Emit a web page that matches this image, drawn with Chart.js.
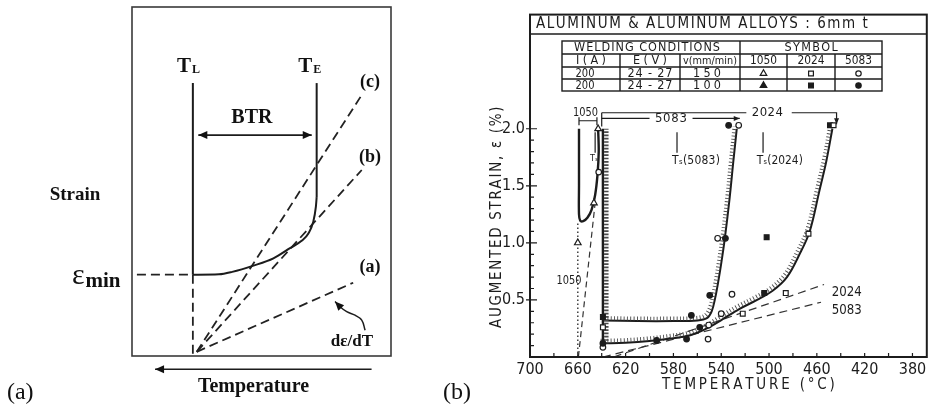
<!DOCTYPE html>
<html>
<head>
<meta charset="utf-8">
<title>Brittle temperature range and augmented strain of aluminium alloys</title>
<script src="https://cdn.jsdelivr.net/npm/chart.js@4.4.1/dist/chart.umd.min.js"></script>
<style>
  html, body { margin: 0; padding: 0; background: #fff; }
  body { width: 932px; height: 410px; position: relative; overflow: hidden; }
  canvas { position: absolute; top: 0; display: block; }
  #schematic { left: 0; }
  #strainPlot { left: 440px; }
</style>
</head>
<body>
<canvas id="schematic" width="440" height="410"></canvas>
<canvas id="strainPlot" width="492" height="410"></canvas>
<script>
// ---------------- (a) BTR schematic (arbitrary temperature / strain units) ----------------
const tlLine        = [[23.5, 78.2], [23.5, 23.3]];
const teLine        = [[71.3, 45.5], [71.3, 78.2]];
const ductility     = [[23.5, 23.3], [33.6, 23.4], [38.7, 24.1], [46.9, 25.9], [54.6, 28.0], [61.0, 30.9],
                       [65.5, 33.0], [68.1, 35.1], [70.0, 38.5], [71.0, 42.8], [71.3, 45.5]];
const tlDrop        = [[23.5, 23.3], [23.5, -0.6]];
const epsMinLevel   = [[1.9, 23.3], [23.5, 23.3]];
const rateA         = [[25.0, 1.2], [85.4, 21.0]];
const rateB         = [[25.0, 1.2], [88.7, 53.3]];
const rateC         = [[25.0, 1.2], [88.7, 74.8]];
const btrSpan       = [[25.6, 63.3], [69.4, 63.3]];
const tempDirection = [[92.5, -3.8], [8.9, -3.8]];
const rateCallout   = [[90.0, 7.4], [88.7, 10.3], [86.1, 11.7], [82.9, 12.7], [80.3, 14.1], [78.4, 15.6]];

// ---------------- (b) augmented strain vs temperature ----------------
const tempTicks   = [700, 660, 620, 580, 540, 500, 460, 420, 380];
const strainTicks = [0.5, 1.0, 1.5, 2.0];

// welding conditions table
const weldCurrent = ['200', '200'];
const weldVoltage = ['24 - 27', '24 - 27'];
const weldSpeed   = ['150', '100'];
const alloys      = ['1050', '2024', '5083'];

// ductility curves: [temperature °C, augmented strain %]
const curve1050   = [[659, 2.0], [659, 1.5], [659, 1.25], [658, 1.195], [655.5, 1.19], [652, 1.22],
                     [648.5, 1.29], [645.5, 1.42], [643.5, 1.6], [642.5, 1.8], [643, 2.0]];
const solidusEdge = [[639, 2.0], [639, 0.12]];
const curve5083   = [[639, 0.32], [610, 0.315], [580, 0.315], [560, 0.32], [552, 0.34], [548, 0.4],
                     [545, 0.52], [542.5, 0.66], [540, 0.82], [537, 1.04], [533, 1.39], [530, 1.7], [527, 2.0]];
const curve2024   = [[639, 0.12], [620, 0.125], [600, 0.14], [580, 0.165], [566, 0.19], [552, 0.25],
                     [539, 0.33], [525, 0.42], [510, 0.5], [497, 0.58], [485, 0.7], [474.5, 0.9],
                     [466, 1.1], [458, 1.45], [452, 1.72], [447, 2.0]];
// critical strain-rate lines and 1050 melting line
const rate1050     = [[659.5, 0], [645.5, 1.35]];
const liquidus1050 = [[660, 0], [660, 1.18]];
const rate2024     = [[630, 0], [454, 0.635]];
const rate5083     = [[639, 0], [456.5, 0.48]];
// brackets and solidus markers
const span1050 = [[659, 2.1], [659, 2.03], [659, 2.07], [644, 2.07], [644, 2.1], [644, 2.03]];
const spanLeft = [[640, 2.14], [640, 2.02]];
const span5083a = [[640, 2.09], [600, 2.09]];
const span5083b = [[564, 2.09], [524.5, 2.09]];
const span2024a = [[640, 2.14], [519, 2.14]];
const span2024b = [[481, 2.14], [443.5, 2.14], [443.5, 2.04]];
const ts1050 = [[645.5, 1.97], [645.5, 1.79]];
const ts5083 = [[577, 1.97], [577, 1.79]];
const ts2024 = [[505, 1.97], [505, 1.79]];

// measured points
const open1050 = [[660, 1.0], [646.5, 1.35], [643, 2.0]];
const open5083 = [[639, 0.085], [551, 0.157], [550.5, 0.28], [540, 0.38], [531, 0.55], [543, 1.04], [525.4, 2.03], [642.5, 1.62]];
const fill5083 = [[639, 0.12], [594, 0.145], [569, 0.157], [558, 0.26], [565, 0.365], [549.6, 0.54], [536.5, 1.04], [533.8, 2.03]];
const open2024 = [[639, 0.26], [522, 0.38], [486, 0.56], [467, 1.08], [446, 2.03]];
const fill2024 = [[639, 0.35], [504, 0.56], [502, 1.05], [449, 2.03]];

// ---------------- drawing helpers ----------------
const FONT_B = "'Liberation Sans Narrow', 'DejaVu Sans Condensed', 'Arial Narrow', sans-serif";
const FONT_A = "'Liberation Serif', 'Times New Roman', 'DejaVu Serif', serif";
const INK = '#1c1c1c';
const OFFSET_B = 440;

const xy = list => list.map(([x, y]) => ({x, y}));

function spacedText(ctx, text, x, y, width, align) {
  const chars = Array.from(text);
  const natural = ctx.measureText(text).width;
  if (!width || chars.length < 2) { ctx.textAlign = align || 'left'; ctx.fillText(text, x, y); return; }
  ctx.textAlign = 'left';
  let cx = align === 'center' ? x - width / 2 : align === 'right' ? x - width : x;
  if (natural >= width) { ctx.fillText(text, cx, y, width); return; }
  const gap = (width - natural) / (chars.length - 1);
  for (const ch of chars) { ctx.fillText(ch, cx, y); cx += ctx.measureText(ch).width + gap; }
}

function arrowHead(ctx, fx, fy, tx, ty, len, half) {
  const a = Math.atan2(ty - fy, tx - fx);
  ctx.save();
  ctx.translate(tx, ty);
  ctx.rotate(a);
  ctx.beginPath();
  ctx.moveTo(0, 0);
  ctx.lineTo(-len, -half);
  ctx.lineTo(-len, half);
  ctx.closePath();
  ctx.fill();
  ctx.restore();
}

function endArrows(chart, len, half) {
  const ctx = chart.ctx;
  chart.data.datasets.forEach((ds, i) => {
    if (!ds.arrow) return;
    const pts = chart.getDatasetMeta(i).data;
    const n = pts.length;
    if (ds.arrow.end) {
      const p = pts[n - 1], q = pts[n - 2];
      const fx = Number.isFinite(p.cp1x) && ds.tension ? p.cp1x : q.x;
      const fy = Number.isFinite(p.cp1y) && ds.tension ? p.cp1y : q.y;
      arrowHead(ctx, fx, fy, p.x, p.y, len, half);
    }
    if (ds.arrow.start) arrowHead(ctx, pts[1].x, pts[1].y, pts[0].x, pts[0].y, len, half);
  });
}

function lineSet(data, style) {
  return Object.assign({
    data: xy(data), pointRadius: 0, borderColor: INK, borderWidth: 2, tension: 0,
    fill: false, clip: false, order: 1
  }, style);
}

function markerSet(data, pointStyle, filled, radius) {
  return {
    data: xy(data), showLine: false, pointStyle, pointRadius: radius, pointBorderWidth: 1.2,
    pointBackgroundColor: filled ? INK : '#fff', pointBorderColor: INK, clip: false, order: 0
  };
}

// ---------------- (a) chart ----------------
const dashA = {borderDash: [9, 5], borderWidth: 1.8, borderColor: '#222'};
const schematicNotes = [
  {text: 'Strain', x: -22.0, y: 44.7, size: 19, bold: true},
  {text: 'BTR', x: 46.3, y: 66.8, size: 20, bold: true},
  {text: '(c)', x: 91.9, y: 77.1, size: 18, bold: true},
  {text: '(b)', x: 91.9, y: 55.6, size: 18, bold: true},
  {text: '(a)', x: 91.9, y: 24.1, size: 18, bold: true},
  {text: 'dε/dT', x: 84.9, y: 2.9, size: 17, bold: true},
  {text: 'Temperature', x: 46.9, y: -10.3, size: 20, bold: true},
  {text: '(a)', x: -48.3, y: -12.3, size: 24, bold: false, align: 'left'}
];
const schematicSymbols = [
  {main: 'T', sub: 'L', x: 17.4, y: 81.4, size: 21, subSize: 12, drop: 1, bold: true, subBold: true},
  {main: 'T', sub: 'E', x: 64.2, y: 81.4, size: 21, subSize: 12, drop: 1, bold: true, subBold: true},
  {main: 'ε', sub: 'min', x: -23.2, y: 20.6, size: 30, subSize: 21, drop: 3, bold: false, subBold: true}
];

const schematicDecor = {
  id: 'schematicDecor',
  afterDraw(chart) {
    const {ctx, chartArea: a, scales: {x, y}} = chart;
    ctx.save();
    ctx.strokeStyle = '#3a3a3a';
    ctx.lineWidth = 1.6;
    ctx.strokeRect(a.left, a.top, a.right - a.left, a.bottom - a.top);
    ctx.fillStyle = '#111';
    endArrows(chart, 9, 4);
    ctx.textBaseline = 'alphabetic';
    schematicNotes.forEach(n => {
      ctx.font = `${n.bold ? 'bold ' : ''}${n.size}px ${FONT_A}`;
      ctx.textAlign = n.align || 'center';
      ctx.fillText(n.text, x.getPixelForValue(n.x), y.getPixelForValue(n.y));
    });
    schematicSymbols.forEach(s => {
      const px = x.getPixelForValue(s.x), py = y.getPixelForValue(s.y);
      ctx.textAlign = 'left';
      ctx.font = `${s.bold ? 'bold ' : ''}${s.size}px ${FONT_A}`;
      ctx.fillText(s.main, px, py);
      const w = ctx.measureText(s.main).width;
      ctx.font = `${s.subBold ? 'bold ' : ''}${s.subSize}px ${FONT_A}`;
      ctx.fillText(s.sub, px + w + 1, py + s.drop);
    });
    ctx.restore();
  }
};

new Chart(document.getElementById('schematic'), {
  type: 'line',
  data: {
    datasets: [
      lineSet(tlLine, {}),
      lineSet(ductility, {cubicInterpolationMode: 'monotone'}),
      lineSet(teLine, {}),
      lineSet(tlDrop, dashA),
      lineSet(epsMinLevel, dashA),
      lineSet(rateA, dashA),
      lineSet(rateB, dashA),
      lineSet(rateC, dashA),
      lineSet(btrSpan, {borderWidth: 1.8, arrow: {start: true, end: true}}),
      lineSet(tempDirection, {borderWidth: 1.6, arrow: {end: true}}),
      lineSet(rateCallout, {borderWidth: 1.5, tension: 0.4, arrow: {end: true}})
    ]
  },
  options: {
    responsive: false,
    animation: false,
    layout: {padding: {left: 132, top: 7, right: 49, bottom: 54}},
    plugins: {legend: {display: false}, tooltip: {enabled: false}},
    scales: {
      x: {type: 'linear', min: 0, max: 100, display: false},
      y: {type: 'linear', min: 0, max: 100, display: false}
    }
  },
  plugins: [schematicDecor]
});

// ---------------- (b) chart ----------------
const plotNotes = [
  {text: '1050', x: 653.6, y: 2.145, size: 13, width: 25},
  {text: '5083', x: 582.1, y: 2.085, size: 13, width: 32},
  {text: '2024', x: 501.4, y: 2.137, size: 13, width: 31},
  {text: 'Tₛ(5083)', x: 561.2, y: 1.715, size: 12, width: 48},
  {text: 'Tₛ(2024)', x: 491.0, y: 1.715, size: 12, width: 46},
  {text: 'Tₛ', x: 646.5, y: 1.735, size: 9},
  {text: '1050', x: 667.4, y: 0.67, size: 12.5, width: 25},
  {text: '2024', x: 447.5, y: 0.565, size: 14, width: 30, align: 'left'},
  {text: '5083', x: 447.5, y: 0.41, size: 14, width: 30, align: 'left'}
];
const TABLE = {cols: [562, 620, 680, 740, 787, 835, 882], rows: [41, 54, 67, 79, 91]};
const symbolStyles = [['triangle', 3.8], ['rect', 3.4], ['circle', 2.7]];

function drawSymbol(ctx, style, r, filled, x, y) {
  ctx.fillStyle = filled ? INK : '#fff';
  ctx.strokeStyle = INK;
  ctx.lineWidth = 1.2;
  Chart.helpers.drawPoint(ctx, {pointStyle: style, radius: r, rotation: 0, borderWidth: 1.2}, x, y);
}

const plotDecor = {
  id: 'plotDecor',
  afterDatasetDraw(chart, args) {
    const ds = chart.data.datasets[args.index];
    if (!ds.hatch) return;
    const line = args.meta.dataset;
    const ctx = chart.ctx;
    const path = new Path2D();
    line.path(path);
    ctx.save();
    ctx.translate(ds.hatch.dx, ds.hatch.dy);
    ctx.lineWidth = ds.hatch.width;
    ctx.setLineDash([0.9, 2.4]);
    ctx.strokeStyle = '#4a4a4a';
    ctx.stroke(path);
    ctx.restore();
  },
  afterDraw(chart) {
    const {ctx, chartArea: a, scales: {x, y}} = chart;
    const px = v => v - OFFSET_B;
    ctx.save();

    // frame and title row
    ctx.strokeStyle = INK;
    ctx.lineWidth = 2;
    ctx.strokeRect(a.left, a.top, a.right - a.left, a.bottom - a.top);
    ctx.lineWidth = 1.6;
    ctx.beginPath();
    ctx.moveTo(a.left, 34); ctx.lineTo(a.right, 34);
    ctx.stroke();

    // inward tick marks
    ctx.lineWidth = 1.2;
    ctx.beginPath();
    for (let i = 1; i <= 20; i++) {
      const v = i / 10;
      const py = y.getPixelForValue(v);
      const major = strainTicks.some(t => Math.abs(t - v) < 1e-6);
      ctx.moveTo(a.left - (major ? 4 : 0), py);
      ctx.lineTo(a.left + (major ? 7 : 4), py);
    }
    for (let t = 380; t <= 680; t += 20) {
      const pxT = x.getPixelForValue(t);
      ctx.moveTo(pxT, a.bottom);
      ctx.lineTo(pxT, a.bottom - 4);
    }
    ctx.stroke();

    // bracket arrows
    ctx.fillStyle = INK;
    endArrows(chart, 6, 2.5);

    // title
    ctx.fillStyle = INK;
    ctx.textBaseline = 'middle';
    ctx.font = `15px ${FONT_B}`;
    spacedText(ctx, 'ALUMINUM & ALUMINUM ALLOYS : 6mm t', px(536), 24, 329, 'left');

    // welding conditions table
    const C = TABLE.cols.map(px), R = TABLE.rows;
    ctx.strokeStyle = INK;
    ctx.lineWidth = 1.4;
    ctx.strokeRect(C[0], R[0], C[6] - C[0], R[4] - R[0]);
    ctx.beginPath();
    for (let r = 1; r < 4; r++) { ctx.moveTo(C[0], R[r]); ctx.lineTo(C[6], R[r]); }
    ctx.moveTo(C[3], R[0]); ctx.lineTo(C[3], R[4]);
    [1, 2, 4, 5].forEach(c => { ctx.moveTo(C[c], R[1]); ctx.lineTo(C[c], R[4]); });
    ctx.stroke();

    const mid = r => (R[r] + R[r + 1]) / 2 + 0.5;
    const colMid = c => (C[c] + C[c + 1]) / 2;
    ctx.font = `12.5px ${FONT_B}`;
    spacedText(ctx, 'WELDING CONDITIONS', px(647), mid(0), 146, 'center');
    spacedText(ctx, 'SYMBOL', (C[3] + C[6]) / 2, mid(0), 53, 'center');
    spacedText(ctx, 'I(A)', colMid(0), mid(1), 30, 'center');
    spacedText(ctx, 'E(V)', colMid(1), mid(1), 34, 'center');
    ctx.font = `11px ${FONT_B}`;
    spacedText(ctx, 'v(mm/min)', colMid(2), mid(1), 54, 'center');
    ctx.font = `12.5px ${FONT_B}`;
    alloys.forEach((al, k) => spacedText(ctx, al, colMid(3 + k), mid(1), 27, 'center'));
    for (let r = 0; r < 2; r++) {
      ctx.fillStyle = INK;
      spacedText(ctx, weldCurrent[r], colMid(0) - 6, mid(2 + r), 19, 'center');
      spacedText(ctx, weldVoltage[r], colMid(1), mid(2 + r), 45, 'center');
      spacedText(ctx, weldSpeed[r], colMid(2) - 3, mid(2 + r), 28, 'center');
      symbolStyles.forEach(([style, rad], k) => drawSymbol(ctx, style, rad, r === 1, colMid(3 + k), mid(2 + r)));
      ctx.fillStyle = INK;
    }

    // axis titles
    ctx.fillStyle = INK;
    ctx.font = `15px ${FONT_B}`;
    spacedText(ctx, 'TEMPERATURE (°C)', px(747.5), 385, 171, 'center');
    ctx.save();
    ctx.translate(px(497), 217.5);
    ctx.rotate(-Math.PI / 2);
    spacedText(ctx, 'AUGMENTED STRAIN, ε (%)', 0, 0, 221, 'center');
    ctx.restore();

    // in-plot labels
    plotNotes.forEach(n => {
      ctx.font = `${n.size}px ${FONT_B}`;
      spacedText(ctx, n.text, x.getPixelForValue(n.x), y.getPixelForValue(n.y), n.width, n.align || 'center');
    });

    // panel letter
    ctx.textBaseline = 'alphabetic';
    ctx.font = `24px ${FONT_A}`;
    ctx.textAlign = 'left';
    ctx.fillStyle = '#111';
    ctx.fillText('(b)', 3, 399);
    ctx.restore();
  }
};

const dashB = {borderDash: [8, 5], borderWidth: 1.2, borderColor: '#333'};
const thinB = {borderWidth: 1.2};

new Chart(document.getElementById('strainPlot'), {
  type: 'line',
  data: {
    datasets: [
      markerSet(open1050, 'triangle', false, 3.8),
      markerSet(open2024, 'rect', false, 3.4),
      markerSet(fill2024, 'rect', true, 3.4),
      markerSet(fill5083, 'circle', true, 2.8),
      markerSet(open5083, 'circle', false, 2.8),
      lineSet(curve1050, {borderWidth: 2.4, tension: 0.35}),
      lineSet(solidusEdge, {borderWidth: 2.4, hatch: {dx: 3.4, dy: 0, width: 4.5}}),
      lineSet(curve5083, {borderWidth: 2, tension: 0.35, hatch: {dx: -2.2, dy: -2.5, width: 4}}),
      lineSet(curve2024, {borderWidth: 2, tension: 0.35, hatch: {dx: -2.2, dy: -2.5, width: 4}}),
      lineSet(liquidus1050, {borderWidth: 1.4, borderDash: [1.5, 2.5], borderColor: '#333'}),
      lineSet(rate1050, {borderWidth: 1.2, borderDash: [6, 4], borderColor: '#333'}),
      lineSet(rate2024, dashB),
      lineSet(rate5083, dashB),
      lineSet(span1050, thinB),
      lineSet(spanLeft, thinB),
      lineSet(span5083a, thinB),
      lineSet(span5083b, Object.assign({arrow: {end: true}}, thinB)),
      lineSet(span2024a, thinB),
      lineSet(span2024b, Object.assign({arrow: {end: true}}, thinB)),
      lineSet(ts1050, thinB),
      lineSet(ts5083, thinB),
      lineSet(ts2024, thinB)
    ]
  },
  options: {
    responsive: false,
    animation: false,
    layout: {padding: {left: 0, top: 12, right: 5, bottom: 0}},
    plugins: {legend: {display: false}, tooltip: {enabled: false}},
    scales: {
      x: {
        type: 'linear', reverse: true, min: 368, max: 700,
        afterFit: s => { s.height = 53; },
        afterBuildTicks: s => { s.ticks = tempTicks.map(v => ({value: v})); },
        grid: {display: false, drawTicks: false},
        border: {display: false},
        ticks: {font: {family: FONT_B, size: 16}, color: INK, padding: 3, maxRotation: 0, autoSkip: false,
                callback: v => String(v)}
      },
      y: {
        type: 'linear', min: 0, max: 3,
        afterFit: s => { s.width = 90; },
        afterBuildTicks: s => { s.ticks = strainTicks.map(v => ({value: v})); },
        grid: {display: false, drawTicks: false},
        border: {display: false},
        ticks: {font: {family: FONT_B, size: 16}, color: INK, padding: 5, autoSkip: false,
                callback: v => Number(v).toFixed(1)}
      }
    }
  },
  plugins: [plotDecor]
});
</script>
</body>
</html>
